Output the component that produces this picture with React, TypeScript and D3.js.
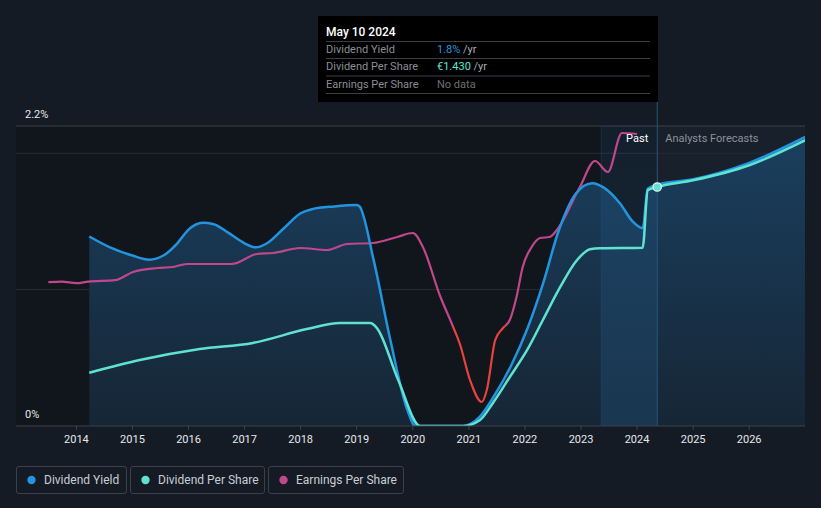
import React from 'react';
import * as d3 from 'd3';

const yearTicks = [2014, 2015, 2016, 2017, 2018, 2019, 2020, 2021, 2022, 2023, 2024, 2025, 2026];

// Dividend yield (%), [year, value]
const yieldData: [number, number][] = [
  [2014.23, 1.39], [2014.6, 1.31], [2015.0, 1.25], [2015.3, 1.22], [2015.55, 1.25], [2015.8, 1.34],
  [2016.0, 1.44], [2016.25, 1.49], [2016.45, 1.48], [2016.7, 1.42], [2017.0, 1.34], [2017.2, 1.31],
  [2017.4, 1.34], [2017.7, 1.45], [2018.0, 1.56], [2018.2, 1.59], [2018.6, 1.61], [2019.0, 1.62],
  [2019.05, 1.61], [2019.3, 1.22], [2019.6, 0.63], [2019.9, 0.12], [2020.05, 0], [2020.9, 0],
  [2021.2, 0.07], [2021.45, 0.22], [2021.75, 0.44], [2022.05, 0.72], [2022.32, 1.04], [2022.6, 1.43],
  [2022.9, 1.7], [2023.2, 1.78], [2023.4, 1.75], [2023.7, 1.63], [2023.92, 1.5], [2024.1, 1.45],
  [2024.19, 1.74], [2024.36, 1.77], [2025.0, 1.81], [2026.0, 1.93], [2027.0, 2.12],
];

// Dividend per share (€), [year, value]
const dpsData: [number, number][] = [
  [2014.23, 0.319], [2015.13, 0.395], [2016.2, 0.461], [2017.15, 0.497], [2018.11, 0.58],
  [2018.7, 0.616], [2019.24, 0.616], [2019.36, 0.586], [2019.74, 0.275], [2020.13, 0],
  [2020.9, 0], [2021.2, 0.036], [2021.43, 0.138], [2021.73, 0.293], [2022.04, 0.455],
  [2022.32, 0.634], [2022.63, 0.832], [2022.93, 0.993], [2023.16, 1.058], [2023.34, 1.064],
  [2024.1, 1.067], [2024.19, 1.41], [2024.36, 1.43], [2025.0, 1.47], [2026.0, 1.56], [2027.0, 1.71],
];

// Earnings per share (€), [year, value]
const epsData: [number, number][] = [
  [2013.5, 2.19], [2013.74, 2.22], [2014.0, 2.14], [2014.21, 2.22], [2014.69, 2.29], [2015.01, 2.7],
  [2015.44, 2.9], [2015.72, 2.95], [2015.97, 3.1], [2016.77, 3.1], [2017.22, 3.6], [2017.51, 3.65],
  [2017.99, 3.9], [2018.47, 3.8], [2018.83, 4.1], [2019.29, 4.15], [2019.72, 4.45], [2020.0, 4.65],
  [2020.18, 3.95], [2020.48, 1.55], [2020.72, -0.05], [2020.84, -0.9], [2021.02, -2.7],
  [2021.23, -3.8], [2021.32, -3.2], [2021.47, -0.7], [2021.61, -0.1], [2021.73, 0.3],
  [2021.85, 1.45], [2021.96, 2.95], [2022.12, 3.95], [2022.27, 4.4], [2022.44, 4.45],
  [2022.57, 4.8], [2022.98, 6.95], [2023.25, 8.25], [2023.48, 7.7], [2023.73, 9.65], [2024.0, 9.6],
];

const yTickLabels = [{ v: 2.2, t: '2.2%' }, { v: 0, t: '0%' }];
const gridValues = [1.0, 2.0];
const legendItems = [
  { name: 'Dividend Yield', color: '#2394df' },
  { name: 'Dividend Per Share', color: '#5fe3d0' },
  { name: 'Earnings Per Share', color: '#c0478a' },
];
const tooltipDate = 'May 10 2024';
const hoverYear = 2024.36;
const tooltipRows = [
  { label: 'Dividend Yield', value: '1.8%', color: '#2394df', suffix: ' /yr' },
  { label: 'Dividend Per Share', value: '€1.430', color: '#5fe3d0', suffix: ' /yr' },
  { label: 'Earnings Per Share', value: 'No data', color: '#6b6f75', suffix: '' },
];

const W = 821;
const H = 508;
const FONT = "Roboto, 'Open Sans', 'DejaVu Sans', sans-serif";

export default function App() {
  const x = d3.scaleLinear().domain([2014, 2026]).range([76.4, 749.2]);
  const top = 126;
  const bottom = 426;
  const left = 16;
  const right = 805;
  const yY = d3.scaleLinear().domain([0, 2.2]).range([bottom, top]);
  const yD = d3.scaleLinear().domain([0, 1.795]).range([bottom, top]);
  const yE = d3.scaleLinear().domain([-5, 10]).range([bottom, top]);

  const curve = d3.curveMonotoneX;
  const yieldLine = d3.line<[number, number]>().x(d => x(d[0])).y(d => yY(d[1])).curve(curve);
  const yieldArea = d3.area<[number, number]>().x(d => x(d[0])).y0(bottom).y1(d => yY(d[1])).curve(curve);
  const dpsLine = d3.line<[number, number]>().x(d => x(d[0])).y(d => yD(d[1])).curve(curve);
  const epsLine = d3.line<[number, number]>().x(d => x(d[0])).y(d => yE(d[1])).curve(curve);

  const hx = x(hoverYear);
  const pastStart = x(hoverYear - 1);
  const hoverDps = dpsData.find(d => d[0] === hoverYear)!;
  const eps0 = yE(0);

  const legendBoxes = [
    { x: 16, w: 110 },
    { x: 130, w: 134 },
    { x: 268, w: 135 },
  ];

  return (
    <svg width={W} height={H} style={{ position: 'absolute', left: 0, top: 0, background: '#151b25' }} fontFamily={FONT}>
      <defs>
        <linearGradient id="areaGrad" gradientUnits="userSpaceOnUse" x1="0" y1={top} x2="0" y2={bottom}>
          <stop offset="0%" stopColor="#1a4060" />
          <stop offset="100%" stopColor="#162636" />
        </linearGradient>
        <linearGradient id="bandGrad" gradientUnits="userSpaceOnUse" x1="0" y1={top} x2="0" y2={bottom}>
          <stop offset="0%" stopColor="#2a78b8" stopOpacity={0.1} />
          <stop offset="100%" stopColor="#2a78b8" stopOpacity={0.2} />
        </linearGradient>
        <clipPath id="plotClip">
          <rect x={left} y={0} width={right - left} height={bottom} />
        </clipPath>
        <clipPath id="posClip">
          <rect x={0} y={0} width={W} height={eps0} />
        </clipPath>
        <clipPath id="negClip">
          <rect x={0} y={eps0} width={W} height={H - eps0} />
        </clipPath>
      </defs>

      {/* plot backgrounds */}
      <rect x={left} y={top} width={hx - left} height={bottom - top} fill="#11151c" />
      <rect x={hx} y={top} width={right - hx} height={bottom - top} fill="#18202b" />

      {/* grid */}
      {gridValues.map(v => (
        <line key={v} x1={left} x2={right} y1={yY(v)} y2={yY(v)} stroke="#262c36" strokeWidth={1} />
      ))}
      <line x1={left} x2={right} y1={top} y2={top} stroke="#3a404a" strokeWidth={1} />

      {/* area under yield */}
      <g clipPath="url(#plotClip)">
        <path d={yieldArea(yieldData) || ''} fill="url(#areaGrad)" />
      </g>

      {/* past band */}
      <rect x={pastStart} y={top} width={hx - pastStart} height={bottom - top} fill="url(#bandGrad)" />
      <line x1={pastStart} x2={pastStart} y1={top} y2={bottom} stroke="#2a5272" strokeOpacity={0.35} />
      <line x1={hx} x2={hx} y1={101} y2={bottom} stroke="#26557a" strokeWidth={1} />

      {/* lines */}
      <g clipPath="url(#plotClip)">
        <path d={epsLine(epsData) || ''} fill="none" stroke="#c0478a" strokeWidth={2.2} clipPath="url(#posClip)" />
        <path d={epsLine(epsData) || ''} fill="none" stroke="#e8423f" strokeWidth={2.2} clipPath="url(#negClip)" />
        <path d={yieldLine(yieldData) || ''} fill="none" stroke="#2394df" strokeWidth={2.5} />
        <path d={dpsLine(dpsData) || ''} fill="none" stroke="#5fe3d0" strokeWidth={2.5} />
      </g>

      <circle cx={x(hoverDps[0])} cy={yD(hoverDps[1])} r={4.2} fill="#5fe3d0" stroke="#e8eef5" strokeWidth={1.2} />

      {/* Past / forecast labels */}
      <text x={hx - 9} y={142} textAnchor="end" fill="#ffffff" fontSize={11}>Past</text>
      <text x={hx + 8} y={142} textAnchor="start" fill="#8d9299" fontSize={11}>Analysts Forecasts</text>

      {/* y labels */}
      {yTickLabels.map(t => (
        <text key={t.t} x={25} y={yY(t.v) - 8} fill="#e6e8eb" fontSize={11}>{t.t}</text>
      ))}

      {/* x axis */}
      <line x1={left} x2={right} y1={bottom} y2={bottom} stroke="#3d434d" strokeWidth={1} />
      {yearTicks.map(yr => (
        <g key={yr}>
          <line x1={x(yr)} x2={x(yr)} y1={bottom} y2={bottom + 4} stroke="#3d434d" />
          <text x={x(yr)} y={443} textAnchor="middle" fill="#e6e8eb" fontSize={11}>{yr}</text>
        </g>
      ))}

      {/* legend */}
      {legendItems.map((it, i) => (
        <g key={it.name}>
          <rect x={legendBoxes[i].x + 0.5} y={466.5} width={legendBoxes[i].w} height={27} rx={2.5} fill="none" stroke="#3b4049" />
          <circle cx={legendBoxes[i].x + 15.5} cy={480} r={4.2} fill={it.color} />
          <text x={legendBoxes[i].x + 28} y={484} fill="#c9cdd3" fontSize={12}>{it.name}</text>
        </g>
      ))}

      {/* tooltip */}
      <rect x={318} y={16} width={340} height={86} fill="#000000" />
      <text x={326} y={36} fill="#ffffff" fontSize={12} fontWeight={500}>{tooltipDate}</text>
      {[41.5, 58.5, 76, 93.5].map(y => (
        <line key={y} x1={326} x2={650} y1={y} y2={y} stroke="#3a3d42" strokeWidth={1} />
      ))}
      {tooltipRows.map((r, i) => {
        const ty = [53, 70, 88][i];
        return (
          <g key={r.label}>
            <text x={326} y={ty} fill="#8a8e94" fontSize={11}>{r.label}</text>
            <text x={437} y={ty} fontSize={11}>
              <tspan fill={r.color}>{r.value}</tspan>
              <tspan fill="#a8acb2">{r.suffix}</tspan>
            </text>
          </g>
        );
      })}
    </svg>
  );
}
